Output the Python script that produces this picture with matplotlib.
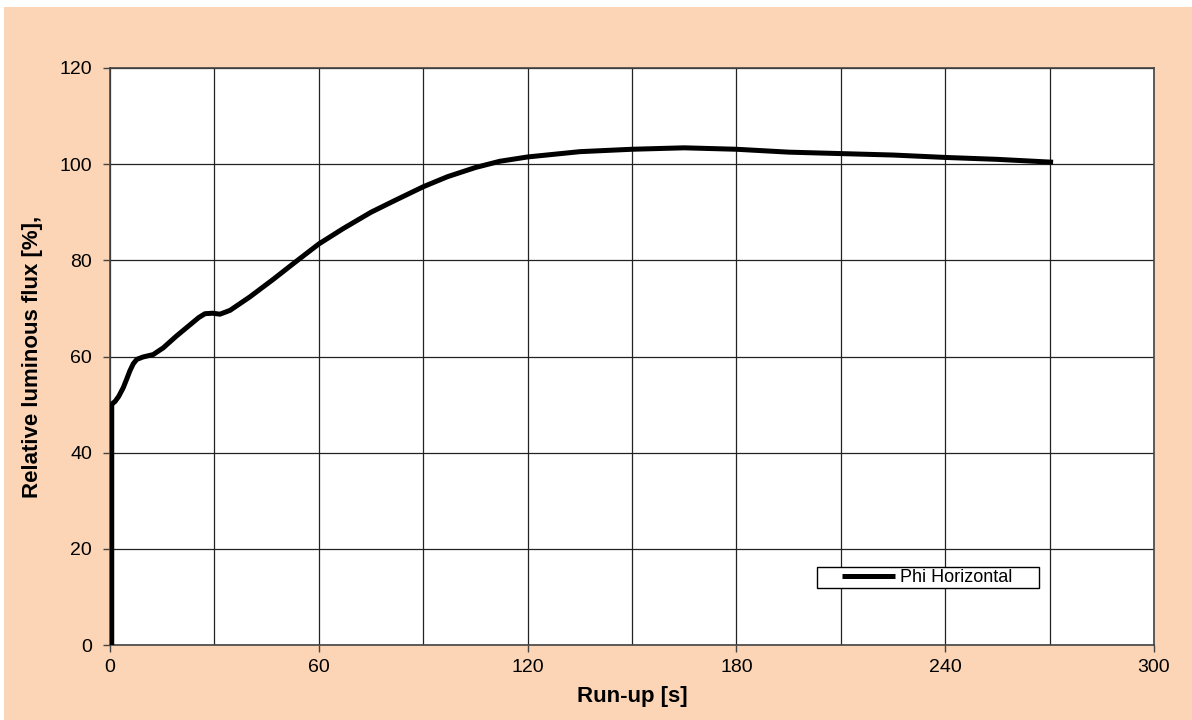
import matplotlib.pyplot as plt
from matplotlib.patches import Rectangle
from matplotlib.ticker import MultipleLocator
from matplotlib.legend_handler import HandlerLine2D

# values
time_s = [0.5, 0.5, 0.8, 1.4, 2.5, 3.8, 4.8, 5.7, 6.7, 7.7, 9.5, 12.4, 15.3, 19, 23, 25.5, 27.3,
          29.5, 31.6, 34.5, 40.2, 47, 53, 60, 67, 75, 82, 90, 97, 105, 112, 120, 135,
          150, 165, 180, 195, 210, 225, 240, 255, 271]
flux_pct = [0, 50.0, 50.3, 50.6, 51.7, 53.5, 55.3, 57.0, 58.5, 59.4, 59.9, 60.4, 61.8, 64.2, 66.6, 68.1,
            68.9, 69.0, 68.8, 69.6, 72.4, 76.1, 79.5, 83.4, 86.6, 90.0, 92.5, 95.3, 97.4, 99.3, 100.6,
            101.5, 102.6, 103.1, 103.4, 103.1, 102.5, 102.2, 101.9, 101.4, 101.0, 100.4]

plt.rcParams['font.family'] = ['Liberation Sans', 'DejaVu Sans']

fig = plt.figure(figsize=(11.92, 7.2), dpi=100)
fig.patch.set_facecolor('white')
# peach chart area with a thin white margin at top and left
fig.patches.append(Rectangle((4 / 1192, 0), 1 - 4 / 1192, 1 - 7 / 720,
                             transform=fig.transFigure, facecolor='#FBD5B5',
                             edgecolor='none', zorder=-5))

ax = fig.add_axes([110 / 1192, 75 / 720, 1044 / 1192, 577 / 720])
ax.set_zorder(2)
ax.set_facecolor('white')

line, = ax.plot(time_s, flux_pct, color='black', lw=3.6, solid_capstyle='butt',
                label='Phi Horizontal', zorder=3)

ax.set_xlim(0, 300)
ax.set_ylim(0, 120)
ax.xaxis.set_major_locator(MultipleLocator(60))
ax.xaxis.set_minor_locator(MultipleLocator(30))
ax.yaxis.set_major_locator(MultipleLocator(20))
ax.grid(True, which='both', axis='x', color='#222222', lw=0.9)
ax.grid(True, which='major', axis='y', color='#222222', lw=0.9)
ax.tick_params(which='minor', length=0)
ax.tick_params(which='major', direction='out', length=5, width=1, color='#444444',
               labelsize=14)
ax.tick_params(axis='x', pad=5)
ax.tick_params(axis='y', pad=8)
for s in ax.spines.values():
    s.set_color('#444444')
    s.set_linewidth(1.2)

ax.set_xlabel('Run-up [s]', fontsize=16, fontweight='bold', labelpad=7)
ax.set_ylabel('Relative luminous flux [%],', fontsize=16, fontweight='bold', labelpad=12)

# legend box: x 817..1039 px, y 563..588 px
leg_x0 = (817 - 110) / 1044
leg_y0 = (645 - 588) / 577
leg_w = (1039 - 817) / 1044
leg = ax.legend(handles=[line], loc='lower left',
                bbox_to_anchor=(leg_x0, leg_y0, leg_w, 25 / 577), mode='expand',
                fontsize=13, frameon=True, fancybox=False, edgecolor='black',
                handlelength=4.2, handletextpad=0.25, borderpad=0.12, borderaxespad=0,
                handler_map={line: HandlerLine2D(xpad=1.25)})
leg.get_frame().set_linewidth(1)
leg.get_frame().set_facecolor('white')
leg.get_frame().set_alpha(1)

fig.savefig('out.png', dpi=100)
